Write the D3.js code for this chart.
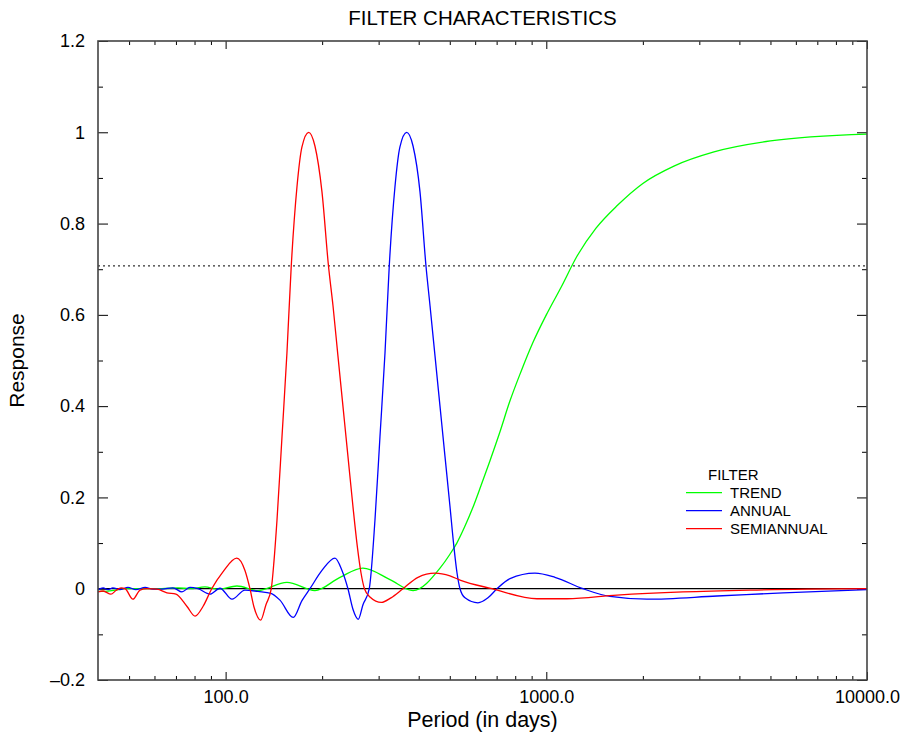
<!DOCTYPE html>
<html><head><meta charset="utf-8">
<script src="https://cdn.jsdelivr.net/npm/d3@7"></script>
<style>body{margin:0;background:#fff;} svg{display:block;} text{font-family:"Liberation Sans",Arial,Helvetica,sans-serif;fill:#000;}</style>
</head><body><svg id="c" width="901" height="735"></svg>
<script>
// ---- data (period in days, response) ----
const trendPeriod = [40, 42.1, 45.2, 48.6, 54.1, 63.3, 71.0, 77.4, 86.2, 94.7, 108.5, 126.2, 155.3, 189.9, 227.3, 268.1, 325.4, 384.1, 466.1, 500, 526, 556, 588, 625, 667, 714, 769, 833, 909, 1000, 1111, 1250, 1429, 1667, 2000, 2500, 3333, 5000, 10000];
const trendResp = [-0.006, -0.006, -0.003, 0.0, 0.0, 0.0, 0.002, 0.0, 0.004, -0.001, 0.006, -0.004, 0.014, -0.004, 0.025, 0.045, 0.02, -0.004, 0.045, 0.075, 0.10, 0.135, 0.175, 0.225, 0.28, 0.34, 0.41, 0.475, 0.54, 0.60, 0.66, 0.73, 0.79, 0.84, 0.888, 0.926, 0.957, 0.981, 0.996];

const annualPeriod = [40, 41.5, 43.0, 44.5, 46.8, 49.6, 52.5, 56.1, 59.4, 63.3, 68.5, 73.1, 77.4, 82.0, 89.4, 96.0, 104.7, 114.9, 126.2, 138.5, 147.7, 162.5, 173.0, 183.2, 199.7, 219.3, 230.6, 240.7, 249.5, 259.2, 268.1, 280.5, 292.2, 302.9, 314.0, 323.8, 337.3, 349.6, 366.9, 384.1, 403.7, 421.5, 433.9, 449.7, 466.1, 483.1, 500.8, 515.4, 526.6, 538.1, 557.8, 612.3, 657.8, 701.8, 770.6, 921.8, 1064, 1301, 1580, 2060, 3407, 5472, 10000];
const annualResp = [-0.002, 0.002, -0.002, 0.002, -0.002, 0.003, -0.002, 0.003, -0.001, -0.001, 0.002, -0.007, 0.003, 0.0, -0.012, 0.001, -0.023, -0.003, -0.006, -0.010, -0.025, -0.063, -0.026, 0.0, 0.040, 0.067, 0.040, 0.0, -0.045, -0.067, -0.035, 0.0, 0.15, 0.333, 0.516, 0.707, 0.88, 0.968, 1.0, 0.97, 0.87, 0.707, 0.62, 0.51, 0.40, 0.29, 0.18, 0.09, 0.035, 0.0, -0.02, -0.031, -0.02, 0.0, 0.022, 0.034, 0.025, 0.0, -0.017, -0.023, -0.016, -0.009, -0.002];

const semiPeriod = [40, 41.5, 43.9, 45.5, 47.2, 48.6, 51.4, 54.1, 56.9, 61.1, 65.6, 70.0, 75.8, 80.3, 85.0, 90.5, 98.1, 108.3, 114.9, 119.1, 122.6, 128.6, 133.6, 138.8, 141.5, 144.6, 149.9, 155.3, 160.2, 166.9, 173.0, 181.6, 189.9, 199.7, 209.3, 216.2, 224.0, 232.2, 240.7, 249.5, 257.7, 264.3, 271.0, 281.9, 306.2, 327.8, 357.3, 398.0, 449.7, 500.8, 538.1, 677, 935, 1160, 1661, 2669, 4316, 10000];
const semiResp = [-0.007, -0.005, -0.012, -0.004, 0.002, 0.0, -0.023, -0.003, 0.0, -0.001, -0.009, -0.012, -0.039, -0.060, -0.039, 0.0, 0.037, 0.067, 0.040, 0.0, -0.040, -0.069, -0.035, 0.0, 0.06, 0.15, 0.333, 0.516, 0.707, 0.88, 0.968, 1.0, 0.97, 0.87, 0.707, 0.62, 0.51, 0.40, 0.29, 0.18, 0.09, 0.035, 0.0, -0.018, -0.030, -0.020, 0.0, 0.025, 0.034, 0.028, 0.019, 0.0, -0.022, -0.022, -0.014, -0.007, -0.003, 0.0];

const seriesNames = ["TREND", "ANNUAL", "SEMIANNUAL"];
const seriesColors = ["#00ff00", "#0000ff", "#ff0000"];
const legendTitle = "FILTER";
const halfPower = 0.7071;

const xMajorTicks = [100, 1000, 10000];
const xMajorLabels = ["100.0", "1000.0", "10000.0"];
const xMinorTicks = [50, 60, 70, 80, 90, 200, 300, 400, 500, 600, 700, 800, 900, 2000, 3000, 4000, 5000, 6000, 7000, 8000, 9000];
const yMajorTicks = [-0.2, 0, 0.2, 0.4, 0.6, 0.8, 1.0, 1.2];
const yMajorLabels = ["\u20130.2", "0", "0.2", "0.4", "0.6", "0.8", "1", "1.2"];
const yMinorTicks = [-0.1, 0.1, 0.3, 0.5, 0.7, 0.9, 1.1];

const titleText = "FILTER CHARACTERISTICS";
const xTitle = "Period (in days)";
const yTitle = "Response";

// ---- layout ----
const L = 98, R = 867, T = 41, B = 680;
const svg = d3.select("#c");
const x = d3.scaleLog().domain([40, 10000]).range([L, R]);
const y = d3.scaleLinear().domain([-0.2, 1.2]).range([B, T]);

function styleAxis(g) {
  g.select(".domain").remove();
  g.selectAll(".tick line").attr("stroke", "#000").attr("stroke-width", 1);
}
// bottom
svg.append("g").attr("transform", `translate(0,${B})`)
  .call(d3.axisBottom(x).tickValues(xMajorTicks).tickSize(-8).tickPadding(10)
    .tickFormat((d, i) => xMajorLabels[i]))
  .call(styleAxis)
  .call(g => g.selectAll("text").attr("font-size", 18).attr("font-family", '"Liberation Sans",Arial,sans-serif'));
svg.append("g").attr("transform", `translate(0,${B})`)
  .call(d3.axisBottom(x).tickValues(xMinorTicks).tickSize(-4).tickFormat(""))
  .call(styleAxis);
// top
svg.append("g").attr("transform", `translate(0,${T})`)
  .call(d3.axisTop(x).tickValues(xMajorTicks).tickSize(-8).tickFormat(""))
  .call(styleAxis);
svg.append("g").attr("transform", `translate(0,${T})`)
  .call(d3.axisTop(x).tickValues(xMinorTicks).tickSize(-4).tickFormat(""))
  .call(styleAxis);
// left
svg.append("g").attr("transform", `translate(${L},0)`)
  .call(d3.axisLeft(y).tickValues(yMajorTicks).tickSize(-10).tickPadding(13)
    .tickFormat((d, i) => yMajorLabels[i]))
  .call(styleAxis)
  .call(g => g.selectAll("text").attr("font-size", 18).attr("font-family", '"Liberation Sans",Arial,sans-serif'));
svg.append("g").attr("transform", `translate(${L},0)`)
  .call(d3.axisLeft(y).tickValues(yMinorTicks).tickSize(-5).tickFormat(""))
  .call(styleAxis);
// right
svg.append("g").attr("transform", `translate(${R},0)`)
  .call(d3.axisRight(y).tickValues(yMajorTicks).tickSize(-10).tickFormat(""))
  .call(styleAxis);
svg.append("g").attr("transform", `translate(${R},0)`)
  .call(d3.axisRight(y).tickValues(yMinorTicks).tickSize(-5).tickFormat(""))
  .call(styleAxis);

// zero line & half-power line
svg.append("line").attr("x1", L).attr("x2", R).attr("y1", y(0)).attr("y2", y(0))
  .attr("stroke", "#000").attr("stroke-width", 1.2);
svg.append("line").attr("x1", L).attr("x2", R).attr("y1", y(halfPower)).attr("y2", y(halfPower))
  .attr("stroke", "#333").attr("stroke-width", 1.2).attr("stroke-dasharray", "2,3");

// curves
const series = [
  { p: trendPeriod, v: trendResp },
  { p: annualPeriod, v: annualResp },
  { p: semiPeriod, v: semiResp }
];
const line = d3.line().x(d => x(d[0])).y(d => y(d[1])).curve(d3.curveMonotoneX);
series.forEach((s, i) => {
  const pts = s.p.map((p, j) => [p, s.v[j]]);
  svg.append("path").attr("d", line(pts)).attr("fill", "none")
    .attr("stroke", seriesColors[i]).attr("stroke-width", 1.3);
});

// frame
svg.append("rect").attr("x", L).attr("y", T).attr("width", R - L).attr("height", B - T)
  .attr("fill", "none").attr("stroke", "#444").attr("stroke-width", 1.6);

// titles
svg.append("text").attr("x", (L + R) / 2).attr("y", 25).attr("text-anchor", "middle")
  .attr("font-size", 20.5).text(titleText);
svg.append("text").attr("x", (L + R) / 2).attr("y", 727).attr("text-anchor", "middle")
  .attr("font-size", 21.5).text(xTitle);
svg.append("text").attr("transform", `translate(24,${(T + B) / 2}) rotate(-90)`).attr("text-anchor", "middle")
  .attr("font-size", 21).text(yTitle);

// legend
const lg = svg.append("g");
lg.append("text").attr("x", 708).attr("y", 480).attr("font-size", 15).text(legendTitle);
seriesNames.forEach((n, i) => {
  const yy = 492.7 + i * 18;
  lg.append("line").attr("x1", 686).attr("x2", 722).attr("y1", yy).attr("y2", yy)
    .attr("stroke", seriesColors[i]).attr("stroke-width", 1.3);
  lg.append("text").attr("x", 730).attr("y", yy + 5.5).attr("font-size", 15).text(n);
});
</script></body></html>
